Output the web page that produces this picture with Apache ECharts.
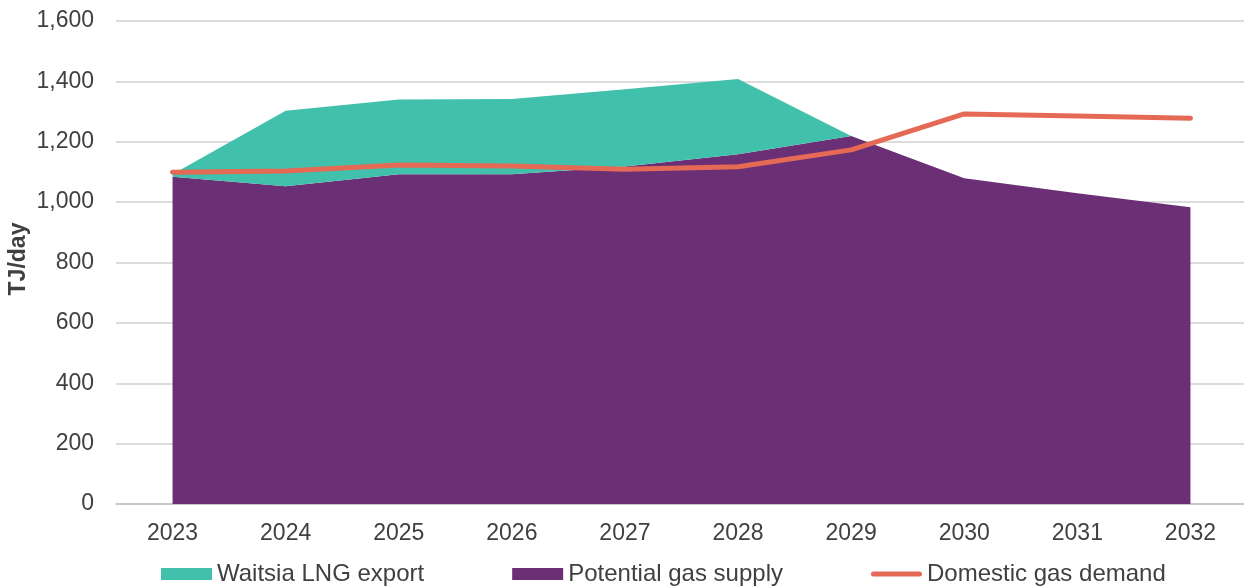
<!DOCTYPE html>
<html>
<head>
<meta charset="utf-8">
<script src="https://cdn.jsdelivr.net/npm/echarts@6/dist/echarts.min.js"></script>
<style>
html,body{margin:0;padding:0;background:#fff;}
#chart{width:1244px;height:587px;}
</style>
</head>
<body>
<div id="chart"></div>
<script>
var years = ['2023','2024','2025','2026','2027','2028','2029','2030','2031','2032'];
var potentialSupply = [1084, 1053, 1092, 1092, 1118, 1159, 1219, 1079, 1029, 983];
var waitsiaExport = [8, 250, 248, 250, 256, 249, 0, 0, 0, 0];
var domesticDemand = [1099, 1103, 1123, 1120, 1109, 1117, 1173, 1292, 1285, 1278];
var yTicks = [0, 200, 400, 600, 800, 1000, 1200, 1400, 1600];
var yAxisTitle = 'TJ/day';

var FONT = '"Liberation Sans", Arial, sans-serif';
var TXT = '#404040';
var lineIcon = 'path://M0,0 M51,12 M2.5,3.5 L48.5,3.5 A2.5,2.5 0 0 1 48.5,8.5 L2.5,8.5 A2.5,2.5 0 0 1 2.5,3.5 Z';
var chart = echarts.init(document.getElementById('chart'), null, {renderer: 'canvas'});
chart.setOption({
  animation: false,
  backgroundColor: '#fff',
  textStyle: {fontFamily: FONT, color: TXT},
  grid: {left: 116, right: -3, top: 21, bottom: 83, containLabel: false, outerBoundsMode: 'none'},
  graphic: [{
    type: 'text',
    x: 19, y: 259,
    rotation: Math.PI / 2,
    style: {
      text: yAxisTitle,
      font: 'bold 23px "Liberation Sans", Arial, sans-serif',
      fill: TXT,
      align: 'center',
      verticalAlign: 'middle'
    }
  }],
  legend: {
    left: 161, top: 562, padding: 0,
    itemWidth: 51, itemHeight: 12, itemGap: 88,
    textStyle: {fontFamily: FONT, fontSize: 24, color: TXT},
    data: [
      {name: 'Waitsia LNG export', icon: 'rect'},
      {name: 'Potential gas supply', icon: 'rect'},
      {name: 'Domestic gas demand', icon: lineIcon}
    ]
  },
  xAxis: {
    type: 'category',
    data: years,
    boundaryGap: true,
    axisTick: {show: false},
    axisLine: {lineStyle: {color: '#bfbfbf', width: 1.5}},
    axisLabel: {fontFamily: FONT, fontSize: 23, color: TXT, margin: 18}
  },
  yAxis: {
    type: 'value',
    min: yTicks[0], max: yTicks[yTicks.length - 1], interval: 200,
    axisLine: {show: false},
    axisTick: {show: false},
    splitLine: {lineStyle: {color: '#d0d0d0', width: 1.5}},
    axisLabel: {
      fontFamily: FONT, fontSize: 23, color: TXT, margin: 22,
      formatter: function (v) { return v.toLocaleString('en-US'); }
    }
  },
  series: [
    {
      name: 'Potential gas supply',
      type: 'line',
      stack: 'supply',
      data: potentialSupply,
      symbol: 'none',
      lineStyle: {width: 0},
      itemStyle: {color: '#6B2F76'},
      areaStyle: {color: '#6B2F76', opacity: 1},
      z: 2
    },
    {
      name: 'Waitsia LNG export',
      type: 'line',
      stack: 'supply',
      data: waitsiaExport,
      symbol: 'none',
      lineStyle: {width: 0},
      itemStyle: {color: '#41C1AC'},
      areaStyle: {color: '#41C1AC', opacity: 1},
      z: 2
    },
    {
      name: 'Domestic gas demand',
      type: 'line',
      data: domesticDemand,
      symbol: 'none',
      itemStyle: {color: '#E56A56'},
      lineStyle: {color: '#E56A56', width: 5, cap: 'round', join: 'round'},
      z: 3
    }
  ]
});
</script>
</body>
</html>
